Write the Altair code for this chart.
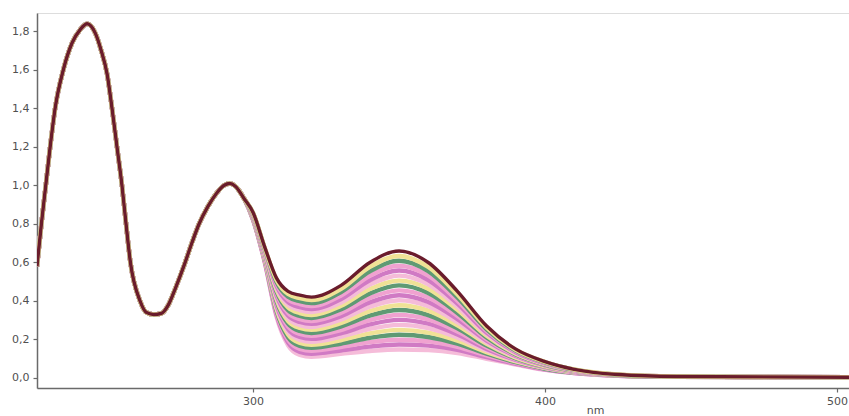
import altair as alt
import pandas as pd

# Shared part of all spectra (curves coincide here)
shared_nm = [226, 227.5, 229, 230.5, 232.2, 235, 238, 240.8, 243.2, 246, 248, 250,
             251.7, 253.4, 255.1, 256.5, 258, 261.3, 263.5, 266, 268.5, 271, 273.5,
             276.5, 279, 281.5, 284.5, 287.5, 290, 292, 294, 297]
shared_abs = [0.58, 0.80, 1.00, 1.20, 1.40, 1.60, 1.74, 1.81, 1.84, 1.79, 1.70, 1.58,
              1.40, 1.20, 1.00, 0.80, 0.60, 0.40, 0.34, 0.33, 0.335, 0.38, 0.47,
              0.59, 0.70, 0.80, 0.89, 0.96, 1.00, 1.01, 0.995, 0.93]

# Wavelengths where the curves differ
band_nm = [300, 304, 308, 312, 316, 320, 330, 340, 350, 360, 370, 380, 390, 400, 410, 425, 445, 505]

curve_01 = [.820, .600, .320, .170, .120, .110, .125, .140, .148, .145, .130, .100, .070, .042, .025, .012, .006, .003]
curve_02 = [.822, .604, .330, .184, .136, .126, .143, .163, .174, .168, .146, .109, .074, .044, .026, .012, .006, .003]
curve_03 = [.824, .608, .340, .198, .151, .141, .161, .186, .199, .191, .162, .117, .078, .046, .027, .013, .006, .003]
curve_04 = [.826, .612, .350, .212, .167, .157, .178, .209, .225, .213, .178, .126, .082, .048, .028, .013, .006, .003]
curve_05 = [.828, .616, .360, .226, .182, .172, .196, .232, .250, .236, .194, .134, .086, .051, .029, .013, .006, .003]
curve_06 = [.830, .620, .370, .240, .198, .188, .214, .255, .276, .259, .210, .143, .090, .053, .030, .014, .007, .003]
curve_07 = [.832, .624, .380, .254, .213, .203, .232, .278, .302, .282, .226, .151, .094, .055, .031, .014, .007, .003]
curve_08 = [.834, .628, .390, .268, .229, .219, .249, .301, .327, .304, .242, .160, .098, .057, .032, .014, .007, .003]
curve_09 = [.836, .632, .400, .282, .244, .234, .267, .324, .353, .327, .258, .168, .102, .059, .033, .014, .007, .003]
curve_10 = [.838, .636, .410, .296, .260, .250, .285, .347, .378, .350, .274, .177, .106, .061, .034, .015, .007, .003]
curve_11 = [.840, .640, .420, .310, .275, .265, .303, .370, .404, .373, .290, .185, .110, .064, .035, .015, .007, .004]
curve_12 = [.842, .644, .430, .324, .291, .281, .320, .393, .430, .395, .306, .194, .114, .066, .036, .015, .007, .004]
curve_13 = [.844, .648, .440, .338, .306, .296, .338, .416, .455, .418, .322, .202, .118, .068, .037, .016, .007, .004]
curve_14 = [.846, .652, .450, .352, .322, .312, .356, .439, .481, .441, .338, .211, .122, .070, .038, .016, .007, .004]
curve_15 = [.848, .656, .460, .366, .337, .327, .374, .462, .506, .464, .354, .219, .126, .072, .039, .016, .007, .004]
curve_16 = [.850, .660, .470, .380, .353, .343, .391, .485, .532, .486, .370, .228, .130, .074, .040, .017, .008, .004]
curve_17 = [.852, .664, .480, .394, .368, .358, .409, .508, .558, .509, .386, .236, .134, .076, .041, .017, .008, .004]
curve_18 = [.854, .668, .490, .408, .384, .374, .427, .531, .583, .532, .402, .245, .138, .079, .042, .017, .008, .004]
curve_19 = [.856, .672, .500, .422, .399, .389, .445, .554, .609, .555, .418, .253, .142, .081, .043, .017, .008, .004]
curve_20 = [.858, .676, .510, .436, .415, .405, .462, .577, .634, .577, .434, .262, .146, .083, .044, .018, .008, .004]
curve_21 = [.860, .680, .520, .450, .430, .420, .480, .600, .660, .600, .450, .270, .150, .085, .045, .018, .008, .004]

curves = [curve_01, curve_02, curve_03, curve_04, curve_05, curve_06, curve_07,
          curve_08, curve_09, curve_10, curve_11, curve_12, curve_13, curve_14,
          curve_15, curve_16, curve_17, curve_18, curve_19, curve_20, curve_21]

y_ticks = [0.0, 0.2, 0.4, 0.6, 0.8, 1.0, 1.2, 1.4, 1.6, 1.8]
x_ticks = [300, 400, 500]

rows = []
names = []
for i, band in enumerate(curves):
    name = f"c{i + 1:02d}"
    names.append(name)
    for nm, a in zip(shared_nm, shared_abs):
        rows.append({"curve": name, "nm": nm, "abs": a})
    for nm, a in zip(band_nm, band):
        rows.append({"curve": name, "nm": nm, "abs": a})
df = pd.DataFrame(rows)

# colours: bottom curve first ... top curve last (drawn on top)
cycle = ["#f0e296", "#5f9a74", "#f0a2d0", "#d07ac4", "#f5bcd9"]
colors = []
n = len(names)
for i in range(n):
    k = n - 1 - i
    colors.append("#6a1c2c" if k == 0 else cycle[(k - 1) % len(cycle)])

base = alt.Chart(df).encode(
    x=alt.X("nm:Q",
            scale=alt.Scale(domain=[226, 504.1], nice=False, zero=False),
            axis=alt.Axis(values=x_ticks, title="nm", grid=False,
                          domainColor="#6a6a6a", domainWidth=1.5,
                          tickColor="#6a6a6a", tickSize=4, tickWidth=1.2,
                          labelColor="#505050", labelFont="DejaVu Sans", labelFontSize=11,
                          labelPadding=3, labelFlush=False,
                          titleColor="#505050", titleFont="DejaVu Sans", titleFontSize=11,
                          titleFontWeight="normal", titleX=558, titleY=25,
                          titleAlign="center", titleBaseline="alphabetic")),
    y=alt.Y("abs:Q",
            scale=alt.Scale(domain=[-0.052, 1.896], nice=False, zero=False),
            axis=alt.Axis(values=y_ticks, title=None, grid=False,
                          labelExpr="replace(format(datum.value, '.1f'), '.', ',')",
                          domainColor="#6a6a6a", domainWidth=1.5,
                          tickColor="#6a6a6a", tickSize=4, tickWidth=1.2,
                          labelColor="#505050", labelFont="DejaVu Sans", labelFontSize=11,
                          labelPadding=4)),
    color=alt.Color("curve:N", scale=alt.Scale(domain=names, range=colors), legend=None),
    strokeWidth=alt.condition(alt.datum.curve == names[-1], alt.value(3.4), alt.value(4.4)),
)

chart = base.mark_line(interpolate="monotone", clip=True).properties(
    width=812, height=375,
    autosize=alt.AutoSizeParams(type="none"),
    padding={"left": 37, "top": 13, "right": 0, "bottom": 28},
).configure_view(stroke=None).configure(background="white")

chart.save("out.html", embed_options={"renderer": "svg", "actions": False})
